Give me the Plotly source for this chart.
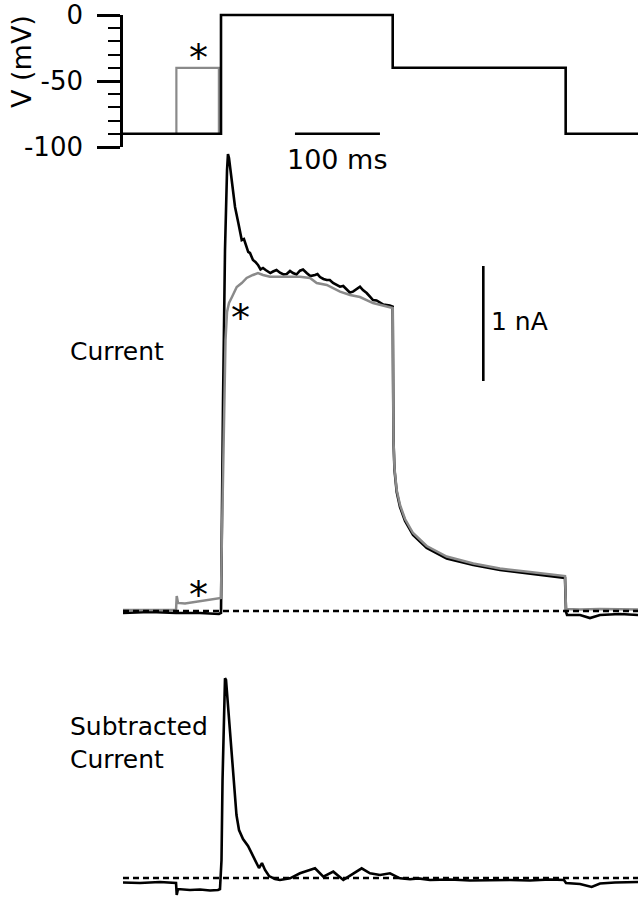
import plotly.graph_objects as go

# ---------------- data (time in ms, voltage in mV, current in nA) ----------------
v_time = [-115.3, 0.0, 0.0, 202.0, 202.0, 405.5, 405.5, 490.6]
v_mv = [-90, -90, 0, 0, -40, -40, -90, -90]

pre_time = [-52.5, -52.5, -2.5, -2.5]
pre_mv = [-90, -40, -40, -90]

t_blk = [-115.3, -83.5, -52.9, -24.7, -2.4, 0.0, 2.4, 4.7, 7.1, 8.2, 9.4, 12.6, 16.5, 20.4,
         24.4, 27.0, 30.2, 32.0, 34.1, 37.6, 40.5, 43.5, 46.5, 49.4, 52.5, 55.3, 58.0, 61.2,
         65.3, 69.4, 73.5, 77.3, 81.2, 84.7, 88.8, 92.9, 96.5, 100.8, 105.0, 110.6, 113.5,
         116.5, 120.5, 124.4, 128.0, 131.8, 135.9, 140.0, 143.8, 147.9, 151.5, 155.3, 159.5,
         163.5, 167.0, 171.4, 175.0, 178.8, 183.0, 187.1, 191.0, 194.9, 198.5, 202.0,
         202.9, 204.1, 206.7, 210.6, 216.5, 225.9, 242.0, 265.5, 296.8, 328.2, 363.5, 398.8,
         404.7, 405.9, 407.1, 422.4, 434.1, 445.9, 469.4, 490.6]
i_blk = [-0.017, -0.009, -0.017, -0.017, -0.026, -0.017, 1.835, 3.139, 3.835, 3.974, 3.939,
         3.748, 3.513, 3.374, 3.226, 3.235, 3.165, 3.122, 3.113, 3.052, 3.035, 3.009, 2.970,
         2.983, 2.965, 2.948, 2.939, 2.952, 2.965, 2.942, 2.926, 2.930, 2.957, 2.939, 2.926,
         2.959, 2.970, 2.939, 2.913, 2.922, 2.930, 2.904, 2.887, 2.878, 2.878, 2.852, 2.839,
         2.820, 2.826, 2.791, 2.770, 2.777, 2.796, 2.820, 2.790, 2.765, 2.735, 2.704, 2.700,
         2.681, 2.665, 2.661, 2.657, 2.646,
         1.487, 1.226, 1.035, 0.904, 0.783, 0.661, 0.548, 0.457, 0.400, 0.357, 0.326, 0.296,
         0.287, -0.009, -0.035, -0.035, -0.061, -0.035, -0.026, -0.035]

t_gry = [-115.3, -52.9, -52.1, -50.6, -42.4, -30.6, -18.8, -7.1, -1.8, 0.0, 0.6, 1.8, 3.5,
         5.3, 7.1, 9.4, 12.9, 18.5, 24.4, 30.2, 37.6, 43.5, 49.4, 57.6, 72.9, 92.9, 104.7,
         112.6, 124.4, 140.0, 151.8, 163.5, 178.8, 194.9, 202.0, 202.9, 204.1, 206.7, 210.6,
         216.5, 225.9, 242.0, 265.5, 296.8, 328.2, 363.5, 398.8, 404.7, 405.9, 422.4, 445.9,
         490.6]
i_gry = [0.009, 0.009, 0.130, 0.070, 0.065, 0.078, 0.091, 0.104, 0.109, 0.113, 0.443, 0.965,
         1.835, 2.357, 2.600, 2.678, 2.730, 2.817, 2.852, 2.896, 2.922, 2.939, 2.922, 2.907,
         2.907, 2.907, 2.896, 2.852, 2.835, 2.777, 2.748, 2.730, 2.678, 2.646, 2.635, 1.487,
         1.243, 1.052, 0.922, 0.800, 0.678, 0.565, 0.474, 0.413, 0.370, 0.339, 0.313, 0.304,
         0.017, 0.013, 0.017, 0.013]

t_sub = [-115.3, -95.3, -71.8, -52.9, -52.1, -50.6, -36.5, -24.7, -12.9, -3.5, -1.2, 0.6,
         1.8, 3.5, 4.7, 5.9, 8.6, 10.6, 12.9, 15.3, 18.2, 21.2, 25.9, 31.8, 37.6, 42.4, 44.7,
         48.2, 51.8, 56.5, 63.5, 69.4, 81.2, 92.9, 110.6, 120.4, 132.1, 143.9, 155.6, 165.5,
         175.3, 187.1, 198.8, 210.6, 222.4, 232.1, 245.9, 269.4, 292.9, 316.5, 340.0, 363.5,
         387.1, 403.5, 405.9, 422.4, 436.1, 445.9, 463.5, 490.6]
i_sub = [-0.039, -0.043, -0.035, -0.043, -0.148, -0.096, -0.104, -0.100, -0.109, -0.104,
         -0.096, 0.157, 0.852, 1.548, 1.737, 1.722, 1.461, 1.200, 0.983, 0.809, 0.548, 0.417,
         0.339, 0.278, 0.191, 0.122, 0.087, 0.130, 0.070, 0.017, -0.009, -0.017, -0.003,
         0.041, 0.084, 0.011, 0.055, -0.017, 0.041, 0.084, 0.041, 0.026, 0.041, -0.003,
         -0.011, -0.003, -0.017, -0.013, -0.022, -0.017, -0.017, -0.022, -0.013, -0.017,
         -0.043, -0.052, -0.078, -0.048, -0.039, -0.035]

zero_time = [-115.3, 490.6]
zero_val = [0, 0]

bar_time = [87.0, 187.0]      # 100 ms scale bar
bar_time_mv = [-90, -90]
nA_bar_time = [308.6, 308.6]  # 1 nA scale bar
nA_bar_val = [2.0, 3.0]

v_ticks = [-100, -50, 0]
v_tick_text = ["-100", "-50", "0"]

# ---------------- layout geometry ----------------
W, H = 638, 899
PX_PER_MS, T0_PX = 0.85, 221.0
PX_PER_MV, V0_PX = 1.32, 15.0
PX_PER_NA, I0_PX, S0_PX = 115.0, 611.0, 878.0
FONT = "DejaVu Sans"

x_range = [-T0_PX / PX_PER_MS, (W - T0_PX) / PX_PER_MS]

fig = go.Figure()

# voltage protocol (overlay axis y4 spanning full height, same mV scale)
fig.add_trace(go.Scatter(x=pre_time, y=pre_mv, mode="lines", xaxis="x", yaxis="y4",
                         line=dict(color="#8a8a8a", width=2.2), hoverinfo="skip"))
fig.add_trace(go.Scatter(x=v_time, y=v_mv, mode="lines", xaxis="x", yaxis="y4",
                         line=dict(color="black", width=2.6), hoverinfo="skip"))
# 100 ms scale bar on the visible voltage axis
fig.add_trace(go.Scatter(x=bar_time, y=bar_time_mv, mode="lines", xaxis="x", yaxis="y",
                         line=dict(color="black", width=2.6), hoverinfo="skip"))

# currents
fig.add_trace(go.Scatter(x=t_blk, y=i_blk, mode="lines", xaxis="x", yaxis="y2",
                         line=dict(color="black", width=2.6), hoverinfo="skip"))
fig.add_trace(go.Scatter(x=t_gry, y=i_gry, mode="lines", xaxis="x", yaxis="y2",
                         line=dict(color="#8a8a8a", width=2.5), hoverinfo="skip"))
fig.add_trace(go.Scatter(x=zero_time, y=zero_val, mode="lines", xaxis="x", yaxis="y2",
                         line=dict(color="black", width=2.4, dash="6px,4px"), hoverinfo="skip"))
fig.add_trace(go.Scatter(x=nA_bar_time, y=nA_bar_val, mode="lines", xaxis="x", yaxis="y2",
                         line=dict(color="black", width=2.6), hoverinfo="skip"))

# subtracted
fig.add_trace(go.Scatter(x=t_sub, y=i_sub, mode="lines", xaxis="x", yaxis="y3",
                         line=dict(color="black", width=2.6), hoverinfo="skip"))
fig.add_trace(go.Scatter(x=zero_time, y=zero_val, mode="lines", xaxis="x", yaxis="y3",
                         line=dict(color="black", width=2.4, dash="6px,4px"), hoverinfo="skip"))

hidden = dict(visible=False, showgrid=False, zeroline=False, fixedrange=True)

v_dom = [1 - (V0_PX + 100 * PX_PER_MV) / H, 1 - V0_PX / H]

fig.update_layout(
    width=W, height=H, autosize=False,
    margin=dict(l=0, r=0, t=0, b=0, pad=0),
    paper_bgcolor="white", plot_bgcolor="rgba(0,0,0,0)",
    showlegend=False,
    font=dict(family=FONT, color="black", size=26),
    xaxis=dict(domain=[0, 1], range=x_range, anchor="y2", **hidden),
    yaxis=dict(domain=v_dom, range=[-100, 0], anchor="free", position=121 / W,
               showline=True, linecolor="black", linewidth=2.6,
               ticks="outside", ticklen=23, tickwidth=2.6, tickcolor="black",
               tickvals=v_ticks, ticktext=v_tick_text, ticklabelstandoff=9,
               ticklabeloverflow="allow",
               tickfont=dict(family=FONT, size=26, color="black"),
               minor=dict(tickmode="linear", tick0=0, dtick=10, ticks="outside",
                          ticklen=12, tickwidth=2.4, tickcolor="black", showgrid=False),
               showgrid=False, zeroline=False, fixedrange=True, automargin=False),
    yaxis4=dict(domain=[0, 1], anchor="x",
                range=[-(H - V0_PX) / PX_PER_MV, V0_PX / PX_PER_MV], **hidden),
    yaxis2=dict(domain=[0, 1], anchor="x",
                range=[-(H - I0_PX) / PX_PER_NA, I0_PX / PX_PER_NA], **hidden),
    yaxis3=dict(domain=[0, 1], anchor="x",
                range=[-(H - S0_PX) / PX_PER_NA, S0_PX / PX_PER_NA], **hidden),
)

def px_ann(text, x, y, size=26, xanchor="center", yanchor="middle", angle=0, align="center"):
    fig.add_annotation(text=text, x=x / W, y=1 - y / H, xref="paper", yref="paper",
                       xanchor=xanchor, yanchor=yanchor, showarrow=False, textangle=angle,
                       align=align, font=dict(family=FONT, size=size, color="black"))

px_ann("V (mV)", 21, 62, size=27, angle=-90)
px_ann("100 ms", 337, 159, size=27)
px_ann("1 nA", 489, 322, size=25, xanchor="left")
px_ann("Current", 68, 351, size=25, xanchor="left")
px_ann("Subtracted<br>Current", 68, 743, size=25, xanchor="left", align="left")
px_ann("*", 198, 58, size=38)
px_ann("*", 241, 318, size=38)
px_ann("*", 198, 595, size=38)

fig.write_html("out.html", config={"displayModeBar": False},
               post_script="document.body.style.margin='0';")
